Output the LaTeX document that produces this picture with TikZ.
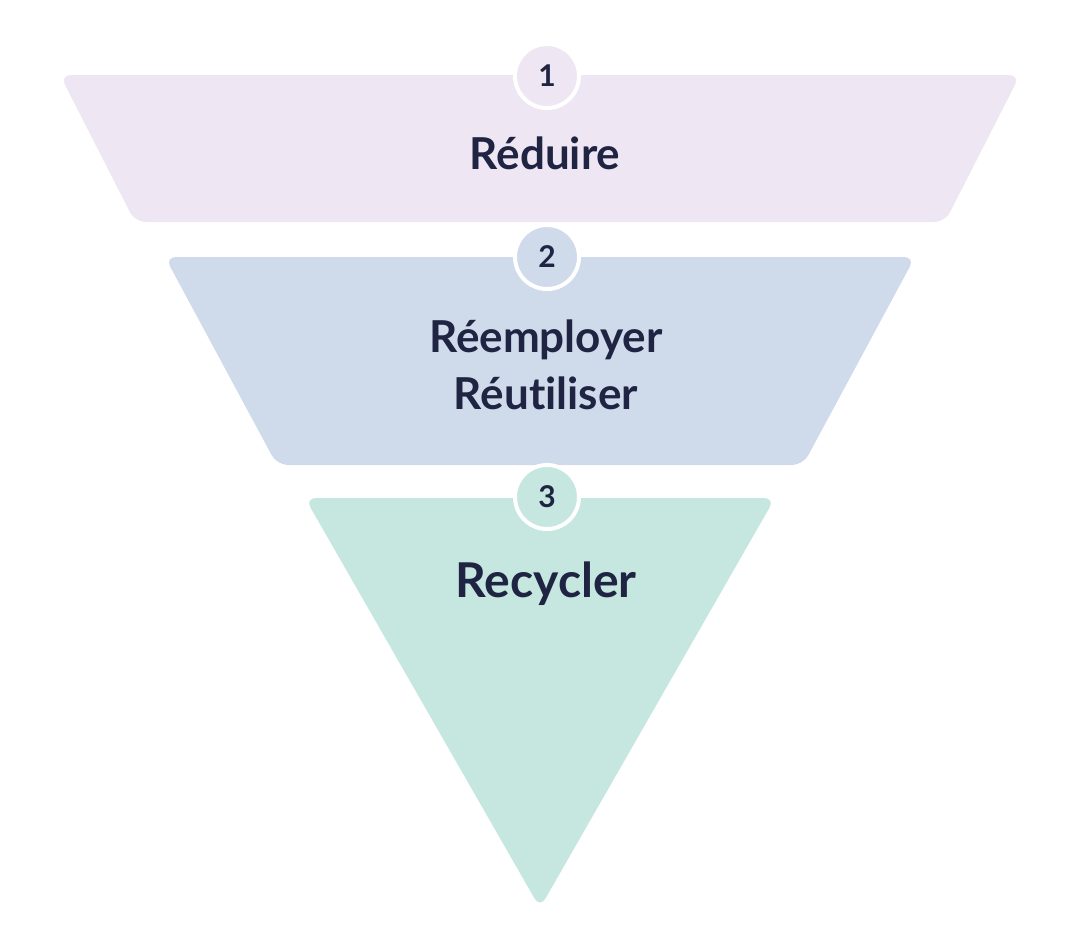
\documentclass[tikz,border=0pt]{standalone}
\usepackage{fontspec}
\setmainfont{Lato}[Ligatures={NoCommon}]
\definecolor{bandA}{HTML}{EEE6F2}
\definecolor{bandB}{HTML}{CFDAEB}
\definecolor{bandC}{HTML}{C6E7DF}
\definecolor{ink}{HTML}{1F2443}
\begin{document}
\begin{tikzpicture}[x=1pt,y=-1pt,
  band/.style={rounded corners=11pt},
  numdot/.style={circle,minimum size=64pt,draw=white,line width=4pt,text=ink,font=\fontsize{30}{30}\selectfont\bfseries,inner sep=0pt},
  label/.style={text=ink,font=\fontsize{44}{57}\selectfont\bfseries,align=center}]
\useasboundingbox (0,0) rectangle (1080,948);
\fill[white] (0,0) rectangle (1080,948);
\fill[bandA,band] (60,75) -- (1020,75) -- (945,222) -- (135,222) -- cycle;
\fill[bandB,band] (165,257) -- (915,257) -- (803,465) -- (277,465) -- cycle;
\fill[bandC,band] (305,498) -- (775,498) -- (540,908) -- cycle;
\node[numdot,fill=bandA] (n1) at (547,76) {1};
\node[numdot,fill=bandB] (n2) at (547,257) {2};
\node[numdot,fill=bandC] (n3) at (547,497) {3};
\node[label] (t1) at (545,153) {Réduire};
\node[label] (t2) at (546,365) {Réemployer\\Réutiliser};
\node[label,font=\fontsize{48}{57}\selectfont\bfseries] (t3) at (546,584) {Recycler};
\end{tikzpicture}
\end{document}
